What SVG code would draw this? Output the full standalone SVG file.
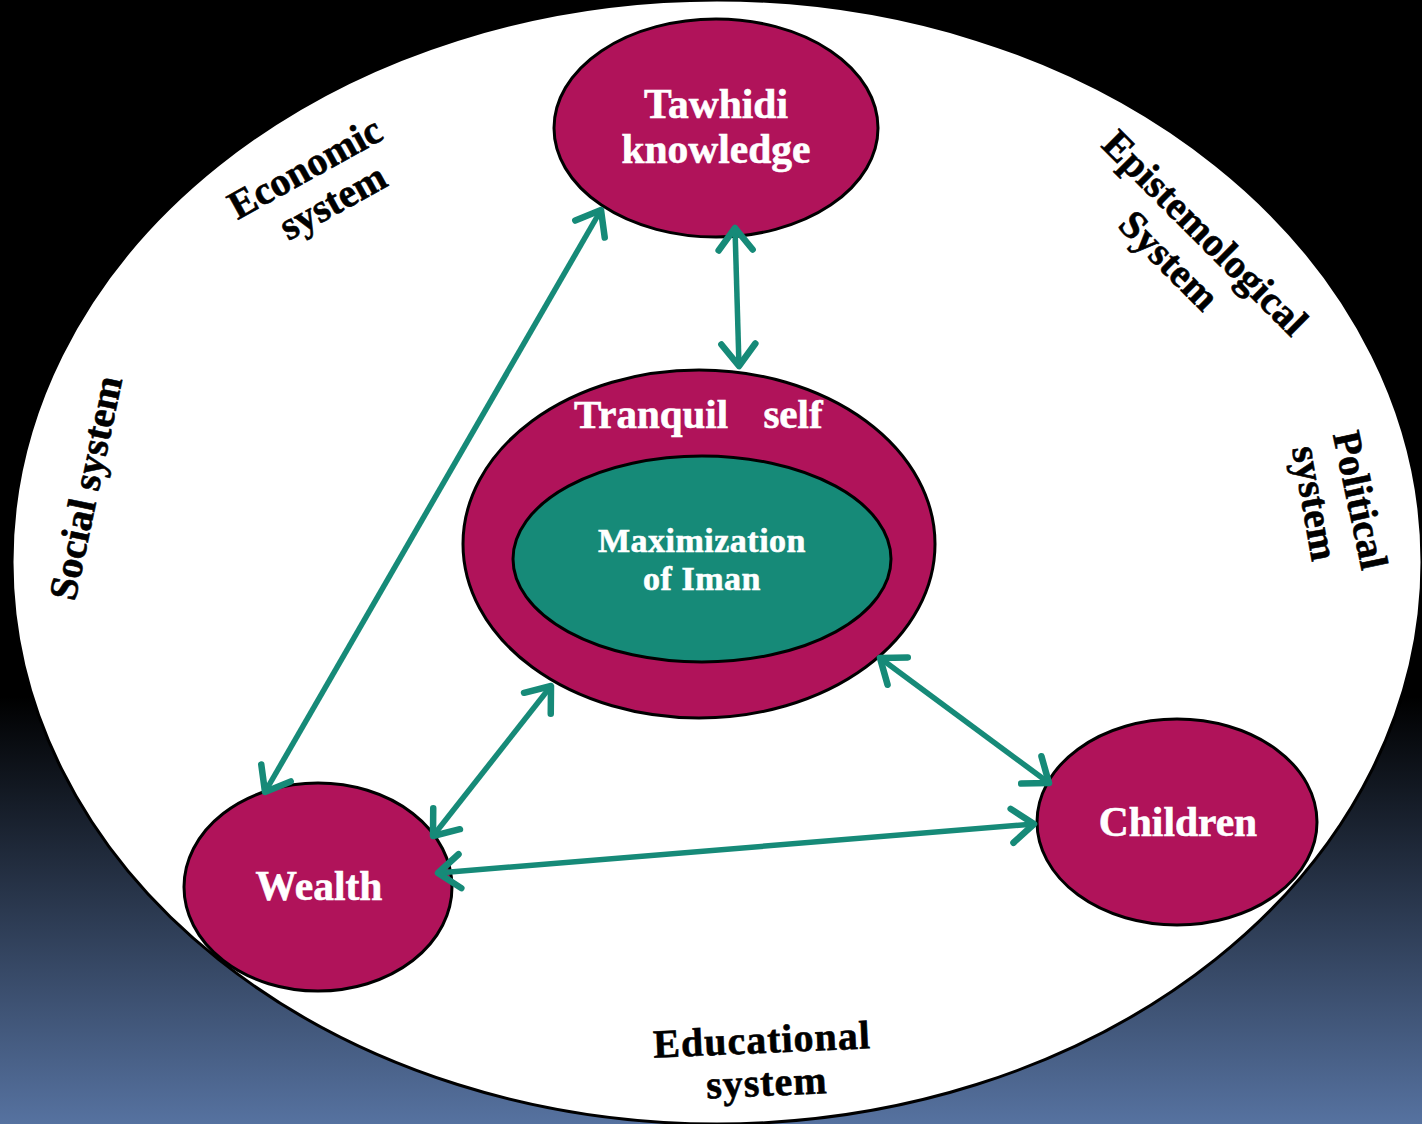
<svg xmlns="http://www.w3.org/2000/svg" width="1422" height="1124" viewBox="0 0 1422 1124">
<defs>
<linearGradient id="bg" x1="0" y1="0" x2="0" y2="1">
<stop offset="0" stop-color="#000"/>
<stop offset="0.62" stop-color="#000"/>
<stop offset="1" stop-color="#5672a0"/>
</linearGradient>
<marker id="ah" markerUnits="userSpaceOnUse" markerWidth="60" markerHeight="60" viewBox="-30 -30 60 60" refX="0" refY="0" orient="auto-start-reverse">
<path d="M-22,-17 L0,0 L-22,17" fill="none" stroke="#168a78" stroke-width="6.5" stroke-linecap="round" stroke-linejoin="round"/>
</marker>
</defs>
<style>
.node{fill:#b0135a;stroke:#000;stroke-width:3}
.inner{fill:#168a78;stroke:#000;stroke-width:3}
.wt{font-family:"Liberation Serif",serif;font-weight:bold;fill:#fff;stroke:#fff;stroke-width:0.6;text-anchor:middle}
.bt{font-family:"Liberation Serif",serif;font-weight:bold;fill:#000;stroke:#000;stroke-width:0.6;font-size:40px;text-anchor:middle}
.conn{stroke:#168a78;stroke-width:5.5;fill:none;marker-start:url(#ah);marker-end:url(#ah)}
</style>
<rect x="0" y="0" width="1422" height="1124" fill="url(#bg)"/>
<ellipse id="outer" cx="717" cy="562" rx="705" ry="562" fill="#fff" stroke="#000" stroke-width="3"/>
<g id="labels">
<g transform="translate(305,168) rotate(-29)"><text class="bt" x="0" y="13">Economic</text><text class="bt" x="8" y="56">system</text></g>
<g transform="translate(1205,233) rotate(45)"><text class="bt" x="0" y="13">Epistemological</text><text class="bt" x="-6" y="58">System</text></g>
<g transform="translate(1361,500) rotate(78)"><text class="bt" x="0" y="14">Political</text></g>
<g transform="translate(1310,504) rotate(80)"><text class="bt" x="0" y="8">system</text></g>
<g transform="translate(86,488) rotate(-78)"><text class="bt" x="0" y="13">Social system</text></g>
<g transform="translate(762,1040) rotate(-2.5)"><text class="bt" x="0" y="13" letter-spacing="1">Educational</text><text class="bt" x="3" y="56" letter-spacing="1">system</text></g>
</g>
<g id="tawhidi">
<ellipse class="node" cx="716" cy="128" rx="162" ry="109"/>
<text class="wt" font-size="41.5" x="716" y="118">Tawhidi</text>
<text class="wt" font-size="41.5" x="716" y="163">knowledge</text>
</g>
<g id="tranquil">
<ellipse class="node" cx="699" cy="544" rx="236" ry="174"/>
<text class="wt" font-size="41" x="651" y="428">Tranquil</text>
<text class="wt" font-size="41" x="793" y="428">self</text>
<g id="iman">
<ellipse class="inner" cx="702" cy="559" rx="189" ry="103"/>
<text class="wt" font-size="34" x="702" y="552" letter-spacing="0.5">Maximization</text>
<text class="wt" font-size="34" x="702" y="590" letter-spacing="0.5">of Iman</text>
</g>
</g>
<g id="wealth">
<ellipse class="node" cx="318" cy="887" rx="134" ry="104"/>
<text class="wt" font-size="41.5" x="319" y="900">Wealth</text>
</g>
<g id="children">
<ellipse class="node" cx="1177" cy="822" rx="140" ry="103"/>
<text class="wt" font-size="41.5" x="1178" y="836">Children</text>
</g>
<g id="connectors">
<line class="conn" x1="601" y1="210" x2="265" y2="792"/>
<line class="conn" x1="735" y1="228" x2="739" y2="366"/>
<line class="conn" x1="551" y1="686" x2="433" y2="836"/>
<line class="conn" x1="880" y1="658" x2="1049" y2="783"/>
<line class="conn" x1="438" y1="873" x2="1034" y2="824"/>
</g>
</svg>
